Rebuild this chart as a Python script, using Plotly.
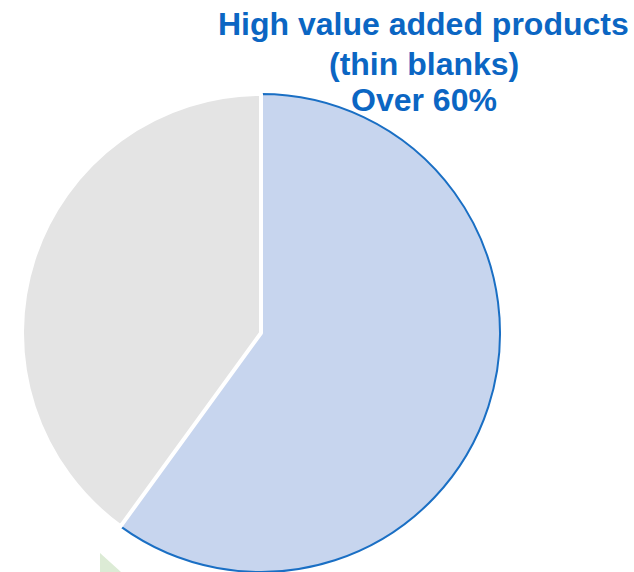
import plotly.graph_objects as go

labels = ["High value added products (thin blanks)", "Other products"]
values = [60, 40]
colors = ["#C7D5EE", "#E4E4E4"]
line_colors = ["#1A6FC4", "#FFFFFF"]
title_lines = ["High value added products", "(thin blanks)", "Over 60%"]

W, H = 634, 572
cx, cy, r = 261, 333, 239

fig = go.Figure(go.Pie(
    labels=labels,
    values=values,
    sort=False,
    direction="clockwise",
    rotation=0,
    marker=dict(colors=colors, line=dict(color=line_colors, width=[2, 4])),
    textinfo="none",
    hoverinfo="label+percent",
    showlegend=False,
    domain=dict(x=[(cx - r) / W, (cx + r) / W], y=[(H - cy - r) / H, (H - cy + r) / H]),
))

line_y = [24.5, 63.5, 99.5]
for t, yy in zip(title_lines, line_y):
    fig.add_annotation(
        x=424 / W, y=1 - yy / H, xref="paper", yref="paper",
        xanchor="center", yanchor="middle", showarrow=False,
        text=f"<b>{t}</b>", align="center",
        font=dict(family="Liberation Sans, Arial", size=32, color="#0B66C3"),
    )

fig.add_shape(type="path", xref="paper", yref="paper",
              path=f"M {100/W} {1-553/H} L {121/W} {0} L {100/W} {0} Z",
              fillcolor="#DCEBD5", line=dict(width=0), layer="below")

fig.update_layout(
    width=W, height=H,
    margin=dict(l=0, r=0, t=0, b=0),
    paper_bgcolor="white", plot_bgcolor="white",
)

fig.write_html("out.html", config={"displayModeBar": False},
               post_script="document.body.style.margin='0';document.body.style.padding='0';")
